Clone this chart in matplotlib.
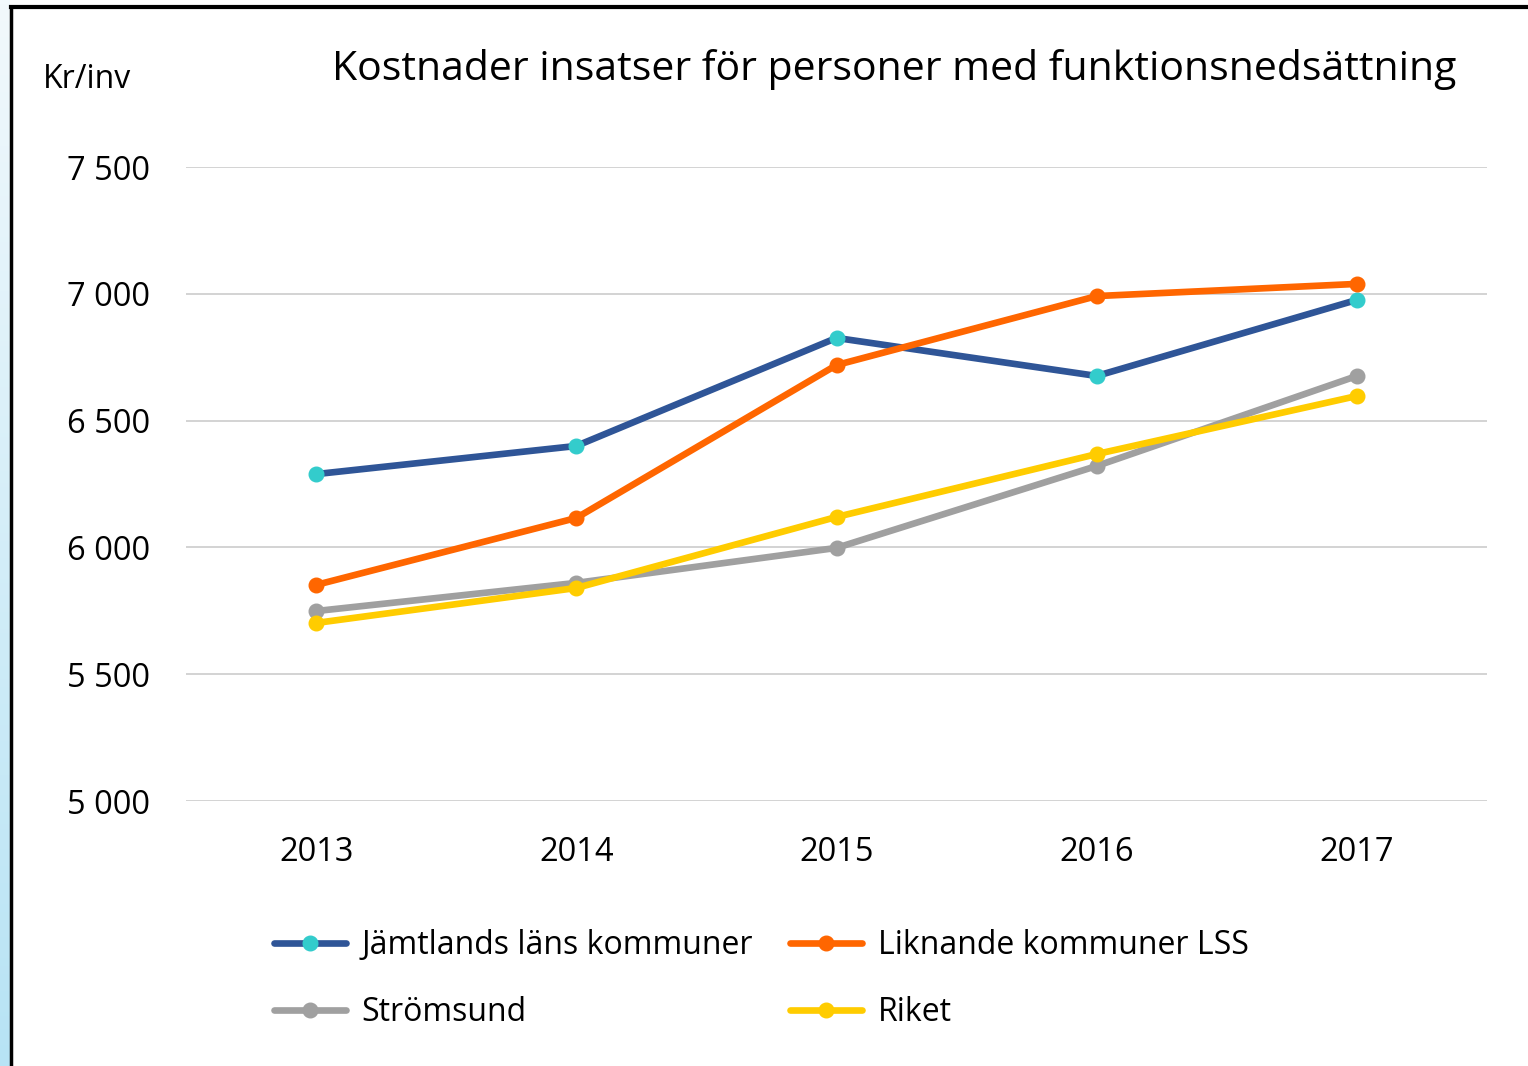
import numpy as np
import matplotlib.pyplot as plt
from matplotlib.lines import Line2D
from matplotlib.colors import LinearSegmentedColormap

plt.rcParams['font.family'] = ['Open Sans', 'DejaVu Sans']

years = ['2013', '2014', '2015', '2016', '2017']
jamtland = [6289, 6400, 6826, 6676, 6976]
liknande = [5852, 6116, 6719, 6991, 7039]
stromsund = [5749, 5860, 5998, 6321, 6676]
riket = [5702, 5840, 6120, 6368, 6597]

series = [
    ('Jämtlands läns kommuner', jamtland, '#2F5597', '#33CCCC'),
    ('Liknande kommuner LSS', liknande, '#FF6600', '#FF6600'),
    ('Strömsund', stromsund, '#A0A0A0', '#A0A0A0'),
    ('Riket', riket, '#FFCC00', '#FFCC00'),
]

fig = plt.figure(figsize=(15.28, 10.66), dpi=100)

# light blue strip on the left and black frame lines
grad = np.linspace(0, 1, 256).reshape(-1, 1)
strip = fig.add_axes([0, 0, 10 / 1528, 1])
strip.imshow(grad, aspect='auto', extent=[0, 1, 0, 1],
             cmap=LinearSegmentedColormap.from_list('b', ['#F2F9FC', '#B7E3F5']))
strip.axis('off')
fig.add_artist(Line2D([11 / 1528, 11 / 1528], [0, 1 - 7 / 1066], color='black', lw=2.5,
                      transform=fig.transFigure))
fig.add_artist(Line2D([11 / 1528, 1], [1 - 7 / 1066, 1 - 7 / 1066], color='black', lw=3,
                      transform=fig.transFigure))

ax = fig.add_axes([186 / 1528, 1 - 801 / 1066, (1487 - 186) / 1528, (801 - 167) / 1066])
x = np.arange(len(years))
handles = []
for name, vals, col, mcol in series:
    h, = ax.plot(x, vals, color=col, lw=4.8, marker='o', ms=10.5,
                 markerfacecolor=mcol, markeredgecolor=mcol, label=name,
                 solid_capstyle='round')
    handles.append(h)

ax.set_xlim(-0.5, 4.5)
ax.set_ylim(5000, 7500)
ax.set_yticks([5000, 5500, 6000, 6500, 7000, 7500])
ax.set_yticklabels(['5 000', '5 500', '6 000', '6 500', '7 000', '7 500'])
ax.set_xticks(x)
ax.set_xticklabels(years)
ax.tick_params(length=0, labelsize=23.5, colors='black')
ax.tick_params(axis='y', pad=26)
ax.tick_params(axis='x', pad=25)
ax.grid(axis='y', color='#D0D0D0', lw=1.3)
ax.set_axisbelow(True)
for s in ax.spines.values():
    s.set_visible(False)

fig.text(332 / 1528, 1 - 70 / 1066, 'Kostnader insatser för personer med funktionsnedsättning',
         fontsize=29.5, va='center', ha='left')
fig.text(43 / 1528, 1 - 79 / 1066, 'Kr/inv', fontsize=23, va='center', ha='left')

# legend laid out row by row
order = [handles[0], handles[2], handles[1], handles[3]]
fig.legend(handles=order, loc='center left', ncol=2,
           bbox_to_anchor=(245 / 1528, 1 - 979 / 1066), frameon=False,
           fontsize=23, handlelength=2.25, columnspacing=1.15, labelspacing=1.05,
           handletextpad=0.5)

fig.savefig('out.png', dpi=100)
